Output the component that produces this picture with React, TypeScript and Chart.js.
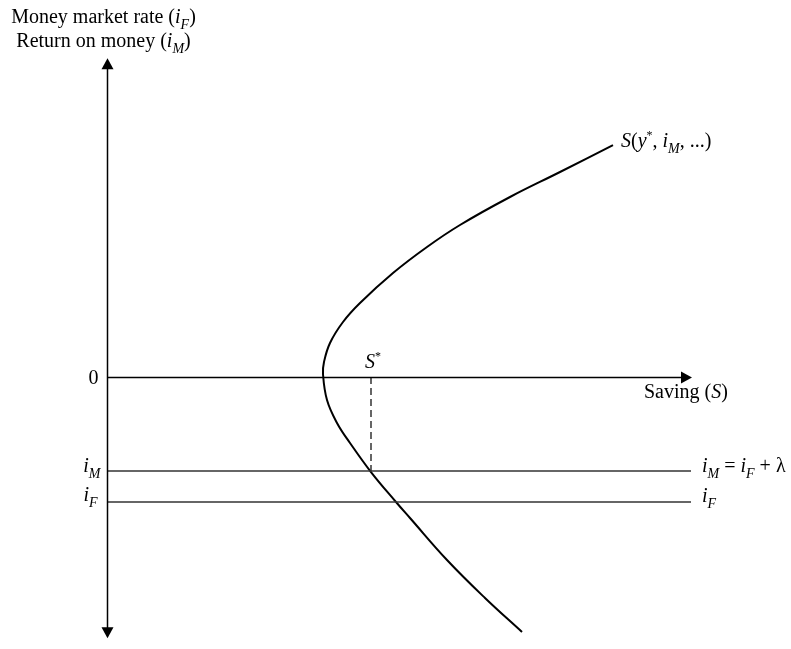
import React, { useEffect, useRef } from "react";
import { Chart, registerables } from "chart.js";

Chart.register(...registerables);

// Saving supply curve S(y*, iM, ...): saving (x) vs. rate (y), ordered along the curve
const curveSaving = [5.06, 4.53, 4.03, 3.53, 3.2, 2.86, 2.53, 2.36, 2.23, 2.17, 2.16, 2.2, 2.3, 2.43, 2.64, 2.89, 3.03, 3.4, 3.78, 4.15];
const curveRate = [2.468, 2.181, 1.915, 1.617, 1.383, 1.106, 0.787, 0.585, 0.362, 0.16, 0.032, -0.245, -0.489, -0.702, -1.011, -1.33, -1.5, -1.947, -2.351, -2.713];

const iM = -1.0; // return on money
const iF = -1.33; // money market rate
const sStar = 2.64; // equilibrium saving
const lineEnd = 5.84;
const xAxisEnd = 5.85;
const yAxisTop = 3.39;
const yAxisBottom = -2.78;

const FONT = '"Liberation Serif", "Times New Roman", serif';

type Seg = { t: string; it?: boolean; sub?: boolean; sup?: boolean };

function segFont(s: Seg) {
  const size = s.sub ? 14 : s.sup ? 12 : 20;
  return `${s.it ? "italic " : ""}${size}px ${FONT}`;
}

function drawRich(ctx: CanvasRenderingContext2D, segs: Seg[], x: number, y: number, align: "left" | "center" | "right" = "left") {
  let w = 0;
  for (const s of segs) {
    ctx.font = segFont(s);
    w += ctx.measureText(s.t).width;
  }
  let cx = align === "left" ? x : align === "center" ? x - w / 2 : x - w;
  ctx.textBaseline = "alphabetic";
  ctx.textAlign = "left";
  ctx.fillStyle = "#000";
  for (const s of segs) {
    ctx.font = segFont(s);
    const dy = s.sub ? 6 : s.sup ? -8 : 0;
    ctx.fillText(s.t, cx, y + dy);
    cx += ctx.measureText(s.t).width;
  }
}

function arrow(ctx: CanvasRenderingContext2D, tx: number, ty: number, dx: number, dy: number) {
  const len = 11;
  const hw = 6;
  const bx = tx - dx * len;
  const by = ty - dy * len;
  ctx.beginPath();
  ctx.moveTo(tx, ty);
  ctx.lineTo(bx - dy * hw, by + dx * hw);
  ctx.lineTo(bx + dy * hw, by - dx * hw);
  ctx.closePath();
  ctx.fill();
}

const diagramPlugin = {
  id: "diagram",
  afterDatasetsDraw(chart: any) {
    const ctx: CanvasRenderingContext2D = chart.ctx;
    const xs = chart.scales.x;
    const ys = chart.scales.y;
    const x0 = Math.round(xs.getPixelForValue(0)) + 0.5;
    const y0 = Math.round(ys.getPixelForValue(0)) + 0.5;
    const xEnd = xs.getPixelForValue(xAxisEnd);
    const yTop = ys.getPixelForValue(yAxisTop);
    const yBot = ys.getPixelForValue(yAxisBottom);
    ctx.save();
    ctx.strokeStyle = "#000";
    ctx.fillStyle = "#000";
    ctx.lineWidth = 1.5;
    ctx.beginPath();
    ctx.moveTo(x0, yTop + 8);
    ctx.lineTo(x0, yBot - 8);
    ctx.moveTo(x0, y0);
    ctx.lineTo(xEnd - 8, y0);
    ctx.stroke();
    arrow(ctx, x0, yTop, 0, -1);
    arrow(ctx, x0, yBot, 0, 1);
    arrow(ctx, xEnd, y0, 1, 0);

    // axis titles
    drawRich(ctx, [{ t: "Money market rate (" }, { t: "i", it: true }, { t: "F", it: true, sub: true }, { t: ")" }], x0 - 4, 23, "center");
    drawRich(ctx, [{ t: "Return on money (" }, { t: "i", it: true }, { t: "M", it: true, sub: true }, { t: ")" }], x0 - 4, 47, "center");
    drawRich(ctx, [{ t: "Saving (" }, { t: "S", it: true }, { t: ")" }], xEnd - 48, y0 + 20, "left");

    // level labels
    drawRich(ctx, [{ t: "0" }], x0 - 9, y0 + 6, "right");
    const yM = ys.getPixelForValue(iM);
    const yF = ys.getPixelForValue(iF);
    drawRich(ctx, [{ t: "i", it: true }, { t: "M", it: true, sub: true }], x0 - 7, yM + 1, "right");
    drawRich(ctx, [{ t: "i", it: true }, { t: "F", it: true, sub: true }], x0 - 10, yF - 1, "right");
    const xr = xs.getPixelForValue(lineEnd) + 11;
    drawRich(ctx, [{ t: "i", it: true }, { t: "M", it: true, sub: true }, { t: " = " }, { t: "i", it: true }, { t: "F", it: true, sub: true }, { t: " + λ" }], xr, yM + 1, "left");
    drawRich(ctx, [{ t: "i", it: true }, { t: "F", it: true, sub: true }], xr, yF, "left");

    // S* label
    drawRich(ctx, [{ t: "S", it: true }, { t: "*", sup: true }], xs.getPixelForValue(sStar) - 6, y0 - 10, "left");

    // curve label
    const last = { x: xs.getPixelForValue(curveSaving[0]), y: ys.getPixelForValue(curveRate[0]) };
    drawRich(
      ctx,
      [{ t: "S", it: true }, { t: "(" }, { t: "y", it: true }, { t: "*", sup: true }, { t: ", " }, { t: "i", it: true }, { t: "M", it: true, sub: true }, { t: ", ...)" }],
      last.x + 8,
      last.y + 2,
      "left"
    );
    ctx.restore();
  },
};

export default function App() {
  const ref = useRef<HTMLCanvasElement | null>(null);
  useEffect(() => {
    if (!ref.current) return;
    const curve = curveSaving.map((s, i) => ({ x: s, y: curveRate[i] }));
    const chart = new Chart(ref.current, {
      type: "scatter",
      data: {
        datasets: [
          {
            data: [{ x: 0, y: iM }, { x: lineEnd, y: iM }],
            showLine: true,
            borderColor: "#333",
            borderWidth: 1.5,
            pointRadius: 0,
          },
          {
            data: [{ x: 0, y: iF }, { x: lineEnd, y: iF }],
            showLine: true,
            borderColor: "#333",
            borderWidth: 1.5,
            pointRadius: 0,
          },
          {
            data: [{ x: sStar, y: 0 }, { x: sStar, y: iM }],
            showLine: true,
            borderColor: "#000",
            borderWidth: 1.2,
            borderDash: [7, 4],
            pointRadius: 0,
          },
          {
            data: curve,
            showLine: true,
            borderColor: "#000",
            borderWidth: 2,
            tension: 0.4,
            pointRadius: 0,
          },
        ],
      },
      options: {
        responsive: false,
        animation: false,
        layout: { padding: 0 },
        plugins: { legend: { display: false }, tooltip: { enabled: false } },
        scales: {
          x: { type: "linear", display: false, min: -1.07, max: 6.84 },
          y: { type: "linear", display: false, min: -2.894, max: 4.011 },
        },
      },
      plugins: [diagramPlugin],
    });
    return () => chart.destroy();
  }, []);
  return (
    <div style={{ position: "fixed", left: 0, top: 0, width: 791, height: 649, background: "#fff" }}>
      <canvas ref={ref} width={791} height={649} />
    </div>
  );
}
